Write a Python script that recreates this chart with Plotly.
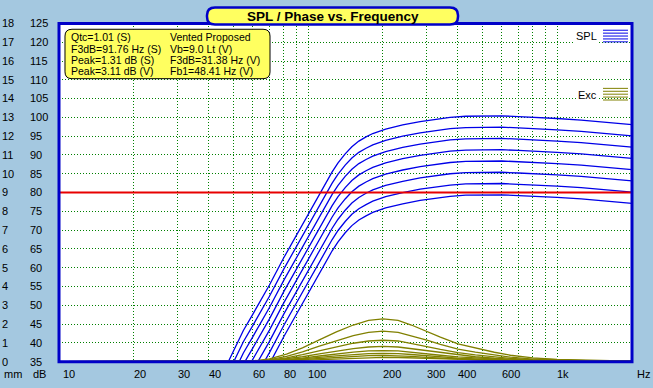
import math
import plotly.graph_objects as go

W, H = 653, 388

# ---------------- data ----------------
spl_freqs = [45, 50, 55, 60, 70, 80, 90, 100, 112, 118, 125, 132, 141, 150, 160, 171, 182, 205, 240, 282,
             320, 372, 430, 500, 600, 700, 850, 1000, 1250, 1500, 1750, 2000]
spl_1 = [31.3, 37.7, 43.3, 47.6, 55.4, 62.7, 68.8, 74.3, 80.0, 82.8, 85.5, 87.9, 90.3, 92.2, 93.7, 94.8, 95.7, 96.9, 98.0, 98.9, 99.4, 100.0, 100.3, 100.4, 100.4, 100.2, 100.0, 99.7, 99.3, 98.9, 98.5, 98.1]
spl_2 = [28.3, 34.7, 40.3, 44.6, 52.4, 59.7, 65.8, 71.3, 77.0, 79.8, 82.5, 84.9, 87.3, 89.2, 90.7, 91.8, 92.7, 93.9, 95.0, 95.9, 96.4, 97.0, 97.3, 97.4, 97.4, 97.2, 97.0, 96.7, 96.3, 95.9, 95.5, 95.1]
spl_3 = [25.3, 31.7, 37.3, 41.6, 49.4, 56.7, 62.8, 68.3, 74.0, 76.8, 79.5, 81.9, 84.3, 86.2, 87.7, 88.8, 89.7, 90.9, 92.0, 92.9, 93.4, 94.0, 94.3, 94.4, 94.4, 94.2, 94.0, 93.7, 93.3, 92.9, 92.5, 92.1]
spl_4 = [22.3, 28.7, 34.3, 38.6, 46.4, 53.7, 59.8, 65.3, 71.0, 73.8, 76.5, 78.9, 81.3, 83.2, 84.7, 85.8, 86.7, 87.9, 89.0, 89.9, 90.4, 91.0, 91.3, 91.4, 91.4, 91.2, 91.0, 90.7, 90.3, 89.9, 89.5, 89.1]
spl_5 = [19.3, 25.7, 31.3, 35.6, 43.4, 50.7, 56.8, 62.3, 68.0, 70.8, 73.5, 75.9, 78.3, 80.2, 81.7, 82.8, 83.7, 84.9, 86.0, 86.9, 87.4, 88.0, 88.3, 88.4, 88.4, 88.2, 88.0, 87.7, 87.3, 86.9, 86.5, 86.1]
spl_6 = [16.3, 22.7, 28.3, 32.6, 40.4, 47.7, 53.8, 59.3, 65.0, 67.8, 70.5, 72.9, 75.3, 77.2, 78.7, 79.8, 80.7, 81.9, 83.0, 83.9, 84.4, 85.0, 85.3, 85.4, 85.4, 85.2, 85.0, 84.7, 84.3, 83.9, 83.5, 83.1]
spl_7 = [13.3, 19.7, 25.3, 29.6, 37.4, 44.7, 50.8, 56.3, 62.0, 64.8, 67.5, 69.9, 72.3, 74.2, 75.7, 76.8, 77.7, 78.9, 80.0, 80.9, 81.4, 82.0, 82.3, 82.4, 82.4, 82.2, 82.0, 81.7, 81.3, 80.9, 80.5, 80.1]
spl_8 = [10.3, 16.7, 22.3, 26.6, 34.4, 41.7, 47.8, 53.3, 59.0, 61.8, 64.5, 66.9, 69.3, 71.2, 72.7, 73.8, 74.7, 75.9, 77.0, 77.9, 78.4, 79.0, 79.3, 79.4, 79.4, 79.2, 79.0, 78.7, 78.3, 77.9, 77.5, 77.1]
spl_series = [spl_1, spl_2, spl_3, spl_4, spl_5, spl_6, spl_7, spl_8]

exc_freqs = [10, 45, 55, 62, 70, 82, 95, 111, 130, 152, 175, 200, 230, 260, 300, 340,
             400, 470, 560, 650, 800, 1000, 1400, 2000]
exc_1 = [0, 0, 0.02, 0.06, 0.15, 0.40, 0.73, 1.16, 1.58, 1.95, 2.20, 2.28, 2.20, 1.95, 1.60, 1.30, 0.95, 0.72, 0.50, 0.34, 0.20, 0.12, 0.06, 0.03]
exc_2 = [0, 0, 0.01, 0.04, 0.11, 0.28, 0.52, 0.82, 1.12, 1.38, 1.56, 1.62, 1.56, 1.38, 1.14, 0.92, 0.67, 0.51, 0.36, 0.24, 0.14, 0.09, 0.04, 0.02]
exc_3 = [0, 0, 0.01, 0.03, 0.08, 0.20, 0.37, 0.58, 0.79, 0.98, 1.10, 1.14, 1.10, 0.98, 0.80, 0.65, 0.48, 0.36, 0.25, 0.17, 0.10, 0.06, 0.03, 0.02]
exc_4 = [0, 0, 0.01, 0.02, 0.05, 0.14, 0.26, 0.41, 0.56, 0.69, 0.78, 0.81, 0.78, 0.69, 0.57, 0.46, 0.34, 0.26, 0.18, 0.12, 0.07, 0.04, 0.02, 0.01]
exc_5 = [0, 0, 0.01, 0.02, 0.04, 0.10, 0.19, 0.30, 0.41, 0.51, 0.57, 0.59, 0.57, 0.51, 0.42, 0.34, 0.25, 0.19, 0.13, 0.09, 0.05, 0.03, 0.02, 0.01]
exc_6 = [0, 0, 0, 0.01, 0.03, 0.08, 0.14, 0.23, 0.31, 0.38, 0.43, 0.44, 0.43, 0.38, 0.31, 0.25, 0.19, 0.14, 0.10, 0.07, 0.04, 0.02, 0.01, 0.01]
exc_7 = [0, 0, 0, 0.01, 0.02, 0.06, 0.11, 0.17, 0.23, 0.28, 0.32, 0.33, 0.32, 0.28, 0.23, 0.19, 0.14, 0.10, 0.07, 0.05, 0.03, 0.02, 0.01, 0]
exc_8 = [0, 0, 0, 0.01, 0.02, 0.04, 0.07, 0.12, 0.16, 0.20, 0.22, 0.23, 0.22, 0.20, 0.16, 0.13, 0.10, 0.07, 0.05, 0.03, 0.02, 0.01, 0.01, 0]
exc_series = [exc_1, exc_2, exc_3, exc_4, exc_5, exc_6, exc_7, exc_8]

ref_level_db = 80

grid_freqs = [10, 20, 30, 40, 50, 60, 70, 80, 90, 100, 200, 300, 400, 500, 600, 700, 800, 900, 1000]
x_tick_vals = [10, 20, 30, 40, 60, 80, 100, 200, 300, 400, 600, 1000]
x_tick_text = ["10", "20", "30", "40", "60", "80", "100", "200", "300", "400", "600", "1k"]
db_ticks = list(range(35, 126, 5))
mm_ticks = list(range(0, 19))

info_left = ["Qtc=1.01 (S)", "F3dB=91.76 Hz (S)", "Peak=1.31 dB (S)", "Peak=3.11 dB (V)"]
info_right = ["Vented Proposed", "Vb=9.0 Lt (V)", "F3dB=31.38 Hz (V)", "Fb1=48.41 Hz (V)"]

# ---------------- style ----------------
BG = "#A4C8E0"
BLUE = "#0000E8"
OLIVE = "#808000"
GRID = "#008000"
BORDER = "#0000C8"
YELLOW = "#FFFF60"
FONT = "Liberation Sans"


def px(x):
    return x / W


def py(y):
    return 1 - y / H


def rrect(x0, y0, x1, y1, r):
    pts = [("M", x0 + r, y0), ("L", x1 - r, y0), ("Q", x1, y0, x1, y0 + r),
           ("L", x1, y1 - r), ("Q", x1, y1, x1 - r, y1), ("L", x0 + r, y1),
           ("Q", x0, y1, x0, y1 - r), ("L", x0, y0 + r), ("Q", x0, y0, x0 + r, y0)]
    s = ""
    for p in pts:
        cmd = p[0]
        coords = p[1:]
        parts = []
        for i in range(0, len(coords), 2):
            parts.append(f"{px(coords[i]):.5f},{py(coords[i + 1]):.5f}")
        s += cmd + " " + " ".join(parts) + " "
    return s + "Z"


fig = go.Figure()

for ys in exc_series:
    fig.add_trace(go.Scatter(x=exc_freqs, y=ys, yaxis="y2", mode="lines",
                             line=dict(color=OLIVE, width=1.3), hoverinfo="skip"))
for ys in spl_series:
    fig.add_trace(go.Scatter(x=spl_freqs, y=ys, mode="lines",
                             line=dict(color=BLUE, width=1.3), hoverinfo="skip"))
fig.add_trace(go.Scatter(x=[10, 2000], y=[ref_level_db, ref_level_db], mode="lines",
                         line=dict(color="#E80000", width=2), hoverinfo="skip"))

x_dom = [59 / W, 632 / W]
y_dom = [1 - 367 / H, 1 - 18 / H]

fig.update_layout(
    width=W, height=H,
    margin=dict(l=0, r=0, t=0, b=0),
    paper_bgcolor=BG, plot_bgcolor="white",
    showlegend=False,
    font=dict(family=FONT, size=11, color="black"),
    xaxis=dict(type="log", range=[1, math.log10(2000)], domain=x_dom,
               tickvals=grid_freqs, showticklabels=False, ticks="",
               showgrid=True, gridcolor=GRID, griddash="1px,2px", gridwidth=1,
               zeroline=False, showline=False, anchor="y"),
    yaxis=dict(range=[35, 125], domain=y_dom, tickvals=db_ticks,
               ticktext=[str(v) for v in db_ticks],
               showgrid=True, gridcolor=GRID, griddash="1px,2px", gridwidth=1,
               zeroline=False, showline=False, ticks="",
               anchor="free", position=29 / W, side="right",
               tickfont=dict(family=FONT, size=11)),
    yaxis2=dict(range=[0, 18], overlaying="y", tickvals=mm_ticks,
                showgrid=False, zeroline=False, showline=False, ticks="",
                anchor="free", position=1 / W, side="right",
                tickfont=dict(family=FONT, size=11)),
)

shapes = []
shapes.append(dict(type="rect", xref="x domain", yref="y domain", x0=0, x1=1, y0=0, y1=1,
                   line=dict(color=BORDER, width=3), layer="above"))
shapes.append(dict(type="path", xref="paper", yref="paper", path=rrect(65, 24, 270, 75, 7),
                   fillcolor=YELLOW, line=dict(color="black", width=1), layer="above"))
shapes.append(dict(type="path", xref="paper", yref="paper", path=rrect(207, 1.5, 458, 19, 8),
                   fillcolor=YELLOW, line=dict(color=BORDER, width=2.5), layer="above"))
for i in range(5):
    yy = 25 + 3 * i
    shapes.append(dict(type="line", xref="paper", yref="paper", x0=px(603), x1=px(628),
                       y0=py(yy), y1=py(yy), line=dict(color=BLUE, width=1), layer="above"))
    yy2 = 85 + 3 * i
    shapes.append(dict(type="line", xref="paper", yref="paper", x0=px(603), x1=px(628),
                       y0=py(yy2), y1=py(yy2), line=dict(color=OLIVE, width=1), layer="above"))
fig.update_layout(shapes=shapes)

ann = []
ann.append(dict(text="<b>SPL / Phase vs. Frequency</b>", x=px(333), y=py(10.5),
                xref="paper", yref="paper", showarrow=False,
                font=dict(family=FONT, size=13.5, color="black"), xanchor="center", yanchor="middle"))
line_y = [32.5, 44, 55.5, 67]
for i, t in enumerate(info_left):
    ann.append(dict(text=t, x=px(69), y=py(line_y[i]), xref="paper", yref="paper",
                    showarrow=False, xanchor="left", yanchor="middle",
                    font=dict(family=FONT, size=10.5, color="black")))
for i, t in enumerate(info_right):
    ann.append(dict(text=t, x=px(168), y=py(line_y[i]), xref="paper", yref="paper",
                    showarrow=False, xanchor="left", yanchor="middle",
                    font=dict(family=FONT, size=10.5, color="black")))
for v, t in zip(x_tick_vals, x_tick_text):
    ann.append(dict(text=t, x=math.log10(v), y=py(379.5), xref="x", yref="paper",
                    showarrow=False, xanchor="left", yanchor="middle", xshift=(2 if v == 10 else -2),
                    font=dict(family=FONT, size=11, color="black")))
for t, xx in [("mm", 2), ("dB", 31), ("Hz", 635)]:
    ann.append(dict(text=t, x=px(xx), y=py(379.5), xref="paper", yref="paper",
                    showarrow=False, xanchor="left", yanchor="middle",
                    font=dict(family=FONT, size=11, color="black")))
ann.append(dict(text="SPL", x=px(599), y=py(31), xref="paper", yref="paper", showarrow=False,
                xanchor="right", yanchor="middle", bgcolor="white",
                font=dict(family=FONT, size=11, color="black")))
ann.append(dict(text="Exc", x=px(599), y=py(91.5), xref="paper", yref="paper", showarrow=False,
                xanchor="right", yanchor="middle", bgcolor="white",
                font=dict(family=FONT, size=11, color="black")))
fig.update_layout(annotations=ann)

fig.write_html("out.html", config={"displayModeBar": False},
               post_script="document.body.style.margin='0px';document.body.style.overflow='hidden';")
